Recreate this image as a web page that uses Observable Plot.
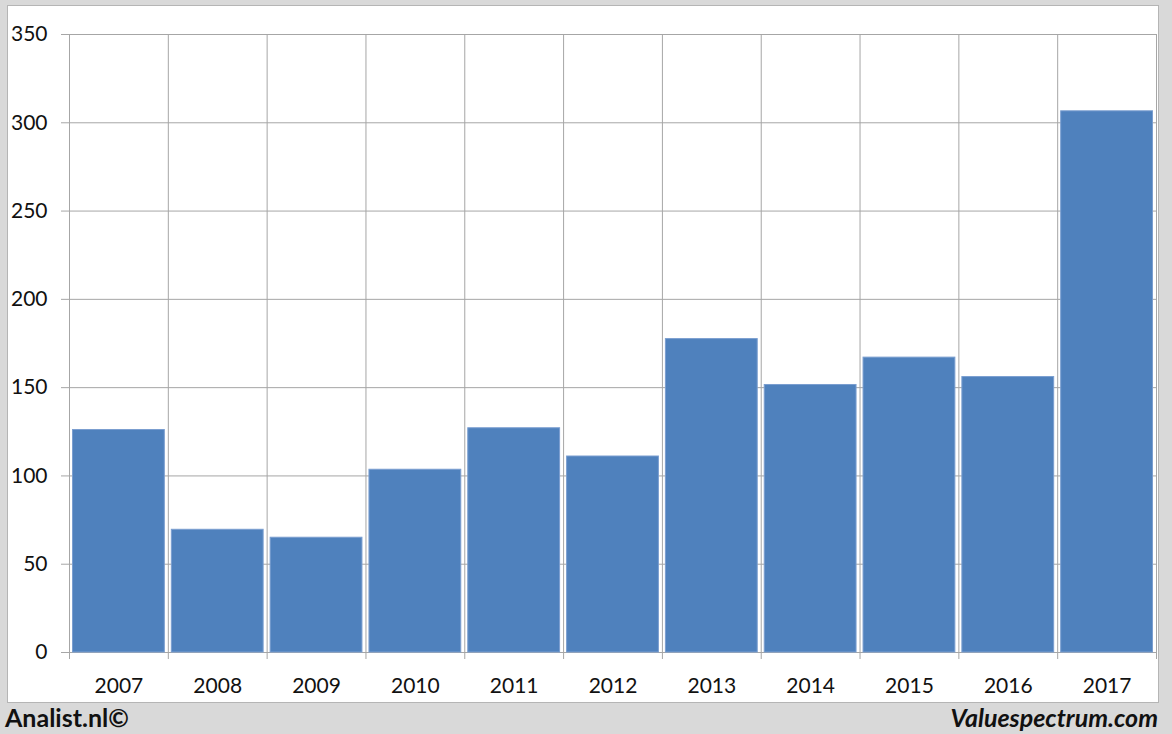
<!DOCTYPE html>
<html>
<head>
<meta charset="utf-8">
<script src="https://cdn.jsdelivr.net/npm/d3@7"></script>
<script src="https://cdn.jsdelivr.net/npm/@observablehq/plot@0.6"></script>
<style>
  html, body { margin: 0; padding: 0; }
  body { width: 1172px; height: 734px; background: #d9d9d9; position: relative; overflow: hidden; font-family: Lato, "Open Sans", sans-serif; }
  #panel { position: absolute; left: 7px; top: 5px; width: 1150px; height: 696px; background: #fff; border: 1px solid #b5b5b5; }
  #chart { position: absolute; left: 0; top: 0; }
  .foot { position: absolute; top: 701px; font-weight: bold; font-size: 25px; color: #111; line-height: 32px; }
  #left { left: 5px; }
  #right { right: 14px; font-style: italic; }
</style>
</head>
<body>
<div id="panel"></div>
<div id="chart"></div>
<div class="foot" id="left">Analist.nl©</div>
<div class="foot" id="right">Valuespectrum.com</div>
<script>
const years = [2007, 2008, 2009, 2010, 2011, 2012, 2013, 2014, 2015, 2016, 2017];
const values = [126, 69.5, 65, 103.5, 127, 111, 177.5, 151.5, 167, 156, 306.5];
const yTicks = [0, 50, 100, 150, 200, 250, 300, 350];

const data = years.map((year, i) => ({year, value: values[i]}));
const bounds = [...years.map(y => y - 0.5), years[years.length - 1] + 0.5];

const chart = Plot.plot({
  width: 1172,
  height: 703,
  marginLeft: 69,
  marginRight: 16,
  marginTop: 34,
  marginBottom: 51,
  style: {background: "transparent", fontFamily: "Lato, 'Open Sans', sans-serif", fontSize: "21px", color: "#111"},
  x: {type: "linear", domain: [2006.5, 2017.5], axis: null},
  y: {domain: [0, 350], axis: null},
  marks: [
    Plot.gridY(yTicks, {stroke: "#a6a6a6", strokeOpacity: 1, insetLeft: -8}),
    Plot.gridX(bounds, {stroke: "#a6a6a6", strokeOpacity: 1}),
    Plot.axisX(bounds, {tickSize: 7, text: null, stroke: "#a6a6a6", strokeOpacity: 1, label: null}),
    Plot.rectY(data, {x1: d => d.year - 0.5, x2: d => d.year + 0.5, y: "value", fill: "#4f81bd", stroke: "#7a9ed0", strokeWidth: 1, insetLeft: 3.5, insetRight: 3.5}),
    Plot.axisY(yTicks, {tickSize: 0, tickPadding: 22, fontSize: 21, fill: "#111", label: null}),
    Plot.axisX(years, {tickSize: 0, tickPadding: 26, fontSize: 21, fill: "#111", tickFormat: d => String(d), label: null})
  ]
});
document.getElementById("chart").appendChild(chart);
</script>
</body>
</html>
